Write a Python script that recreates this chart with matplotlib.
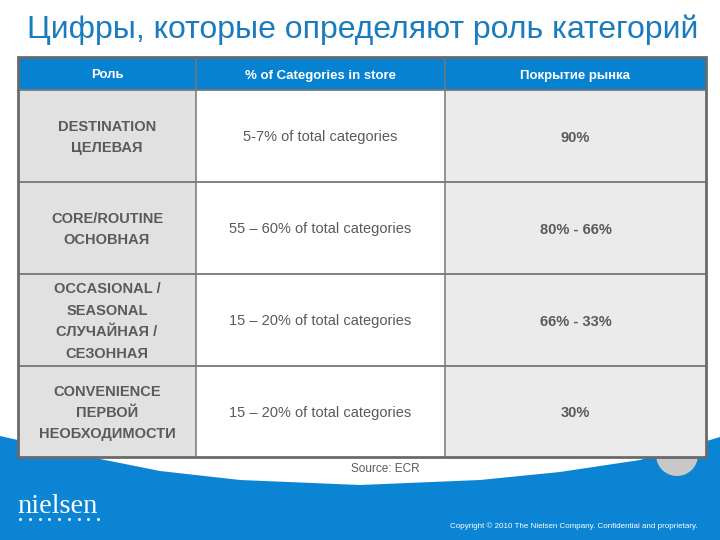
import matplotlib.pyplot as plt
from matplotlib.patches import Rectangle, Circle, Polygon
import numpy as np

plt.rcParams['font.family'] = ['Liberation Sans', 'DejaVu Sans']

# table content
title = 'Цифры, которые определяют роль категорий'
headers = ['Роль', '% of Categories in store', 'Покрытие рынка']
roles = ['DESTINATION\nЦЕЛЕВАЯ',
         'CORE/ROUTINE\nОСНОВНАЯ',
         'OCCASIONAL /\nSEASONAL\nСЛУЧАЙНАЯ /\nСЕЗОННАЯ',
         'CONVENIENCE\nПЕРВОЙ\nНЕОБХОДИМОСТИ']
share = ['5-7% of total categories',
         '55 – 60% of total categories',
         '15 – 20% of total categories',
         '15 – 20% of total categories']
coverage = ['90%', '80% - 66%', '66% - 33%', '30%']
source = 'Source: ECR'
copyright_txt = 'Copyright © 2010 The Nielsen Company. Confidential and proprietary.'

# layout in pixels (720 x 540 slide)
col_x = [18, 196, 445, 706]
row_y = [57, 90, 182, 274, 366, 457]
role_spacing = [1.6, 1.6, 1.72, 1.6]
blue = '#0A84D3'
grey_txt = '#5a5a5a'
line_c = '#777777'

fig = plt.figure(figsize=(7.2, 5.4), dpi=100)
ax = fig.add_axes([0, 0, 1, 1])
ax.set_xlim(0, 720)
ax.set_ylim(540, 0)
ax.axis('off')

# blue wave at the bottom
wave_x = [0, 40, 80, 160, 240, 360, 480, 560, 640, 700, 720]
wave_y = [436, 445, 455, 471, 480, 485, 480, 472, 460, 443, 437]
ax.add_patch(Polygon(list(zip(wave_x, wave_y)) + [(720, 540), (0, 540)],
                     closed=True, facecolor=blue, edgecolor='none', zorder=1))
ax.add_patch(Circle((677, 455), 21, facecolor='#c8c8c8', edgecolor='none', zorder=2))

# title
ax.text(27, 30, title, fontsize=23, color='#1b7bbf', va='center', ha='left', zorder=5)

# header row
ax.add_patch(Rectangle((col_x[0], row_y[0]), col_x[-1] - col_x[0], row_y[1] - row_y[0],
                       facecolor='#0782D0', edgecolor='none', zorder=3))
for i, h in enumerate(headers):
    ax.text((col_x[i] + col_x[i + 1]) / 2, (row_y[0] + row_y[1]) / 2 + 2, h,
            color='white', fontsize=9.5, fontweight='bold', ha='center', va='center', zorder=6)

# body cells
fills = ['#e1e1e1', 'white', '#ebebeb']
for r in range(4):
    y0, y1 = row_y[r + 1], row_y[r + 2]
    for c in range(3):
        ax.add_patch(Rectangle((col_x[c], y0), col_x[c + 1] - col_x[c], y1 - y0,
                               facecolor=fills[c], edgecolor='none', zorder=3))
    yc = (y0 + y1) / 2 + 1.5
    ax.text((col_x[0] + col_x[1]) / 2, yc, roles[r], color=grey_txt, fontsize=10.5,
            fontweight='bold', ha='center', va='center', linespacing=role_spacing[r], zorder=6)
    ax.text((col_x[1] + col_x[2]) / 2, yc, share[r], color=grey_txt, fontsize=10.5,
            ha='center', va='center', zorder=6)
    ax.text((col_x[2] + col_x[3]) / 2, yc, coverage[r], color=grey_txt, fontsize=10.5,
            fontweight='bold', ha='center', va='center', zorder=6)

# grid lines
for y in row_y[1:-1]:
    ax.plot([col_x[0], col_x[-1]], [y, y], color=line_c, lw=1.3, zorder=4)
for x in col_x[1:-1]:
    ax.plot([x, x], [row_y[0], row_y[-1]], color=line_c, lw=1.1, zorder=4)
ax.add_patch(Rectangle((col_x[0], row_y[0]), col_x[-1] - col_x[0], row_y[-1] - row_y[0],
                       facecolor='none', edgecolor='#6a6a6a', lw=2, zorder=5))

# footer
ax.text(385, 469, source, color=grey_txt, fontsize=8.5, ha='center', va='center', zorder=6)
ax.text(17, 513, 'nielsen', color='white', fontsize=20.5, family=['Liberation Serif', 'DejaVu Serif'],
        ha='left', va='baseline', zorder=6)
ax.scatter(np.linspace(20, 98, 9), [519] * 9, s=1.2, color='white', zorder=6)
ax.text(698, 526, copyright_txt, color='white', fontsize=5.8, ha='right', va='center', zorder=6)

fig.savefig('out.png', dpi=100)
